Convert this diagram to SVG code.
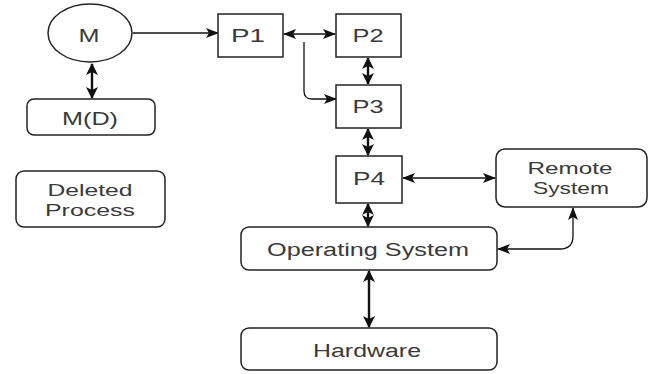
<svg xmlns="http://www.w3.org/2000/svg" width="653" height="374" viewBox="0 0 653 374">
<style>
.box{fill:#fff;stroke:#222;stroke-width:1.5}
.t{font-family:"Liberation Sans",Arial,sans-serif;font-size:18px;fill:#3a3a3a;text-anchor:middle}
.t2{font-size:16.5px}
.c{fill:none;stroke:#111;stroke-width:1.3}
.ck{fill:none;stroke:#111;stroke-width:2.4}
</style>
<defs>
<marker id="a" markerUnits="userSpaceOnUse" markerWidth="13" markerHeight="10" refX="12" refY="5" orient="auto-start-reverse">
<path d="M0,0 L13,5 L0,10 L3,5 z" fill="#111"/>
</marker>
<marker id="b" markerUnits="userSpaceOnUse" markerWidth="12" markerHeight="12" refX="11" refY="6" orient="auto-start-reverse">
<path d="M0,0 L12,6 L0,12 L3,6 z" fill="#111"/>
</marker>
</defs>
<g id="connectors">
<path class="c" d="M133,33 H218" marker-end="url(#a)"/>
<path class="ck" d="M92,64 V98" marker-start="url(#b)" marker-end="url(#b)"/>
<path class="c" d="M284,34 H335" marker-start="url(#a)" marker-end="url(#a)"/>
<path class="c" d="M304,42 V91 Q304,99 312,99 H336" marker-end="url(#a)"/>
<path class="ck" d="M368,58 V84" marker-start="url(#b)" marker-end="url(#b)"/>
<path class="ck" d="M368,129 V155" marker-start="url(#b)" marker-end="url(#b)"/>
<path class="c" d="M403,178 H495" marker-start="url(#a)" marker-end="url(#a)"/>
<path class="ck" d="M368,204 V226" marker-start="url(#b)" marker-end="url(#b)"/>
<path class="c" d="M498,249 H560 Q573,249 573,236 V208" marker-start="url(#a)" marker-end="url(#a)"/>
<path class="ck" d="M369,271 V327" marker-start="url(#b)" marker-end="url(#b)"/>
</g>
<g id="M">
<ellipse class="box" cx="90" cy="33" rx="42" ry="29"/>
<text class="t" x="89" y="42" textLength="21" lengthAdjust="spacingAndGlyphs">M</text>
</g>
<g id="MD">
<rect class="box" x="27" y="99" width="128" height="36" rx="7"/>
<text class="t" x="90" y="125" textLength="56" lengthAdjust="spacingAndGlyphs">M(D)</text>
</g>
<g id="Deleted">
<rect class="box" x="16" y="171" width="149" height="56" rx="8"/>
<text class="t t2" x="90" y="196" textLength="85" lengthAdjust="spacingAndGlyphs">Deleted</text>
<text class="t t2" x="90" y="216" textLength="90" lengthAdjust="spacingAndGlyphs">Process</text>
</g>
<g id="P1">
<rect class="box" x="218" y="14" width="65" height="43"/>
<text class="t" x="248" y="42" textLength="34" lengthAdjust="spacingAndGlyphs">P1</text>
</g>
<g id="P2">
<rect class="box" x="336" y="14" width="65" height="43"/>
<text class="t" x="368" y="42" textLength="31" lengthAdjust="spacingAndGlyphs">P2</text>
</g>
<g id="P3">
<rect class="box" x="336" y="85" width="65" height="43"/>
<text class="t" x="368" y="113" textLength="31" lengthAdjust="spacingAndGlyphs">P3</text>
</g>
<g id="P4">
<rect class="box" x="336" y="156" width="66" height="47"/>
<text class="t" x="369" y="185" textLength="32" lengthAdjust="spacingAndGlyphs">P4</text>
</g>
<g id="Remote">
<rect class="box" x="496" y="149" width="151" height="58" rx="9"/>
<text class="t t2" x="570" y="174" textLength="85" lengthAdjust="spacingAndGlyphs">Remote</text>
<text class="t t2" x="571" y="194" textLength="76" lengthAdjust="spacingAndGlyphs">System</text>
</g>
<g id="OS">
<rect class="box" x="241" y="227" width="256" height="43" rx="8"/>
<text class="t" x="368" y="256" textLength="202" lengthAdjust="spacingAndGlyphs">Operating System</text>
</g>
<g id="Hardware">
<rect class="box" x="241" y="328" width="256" height="42" rx="8"/>
<text class="t" x="367" y="357" textLength="108" lengthAdjust="spacingAndGlyphs">Hardware</text>
</g>
</svg>
